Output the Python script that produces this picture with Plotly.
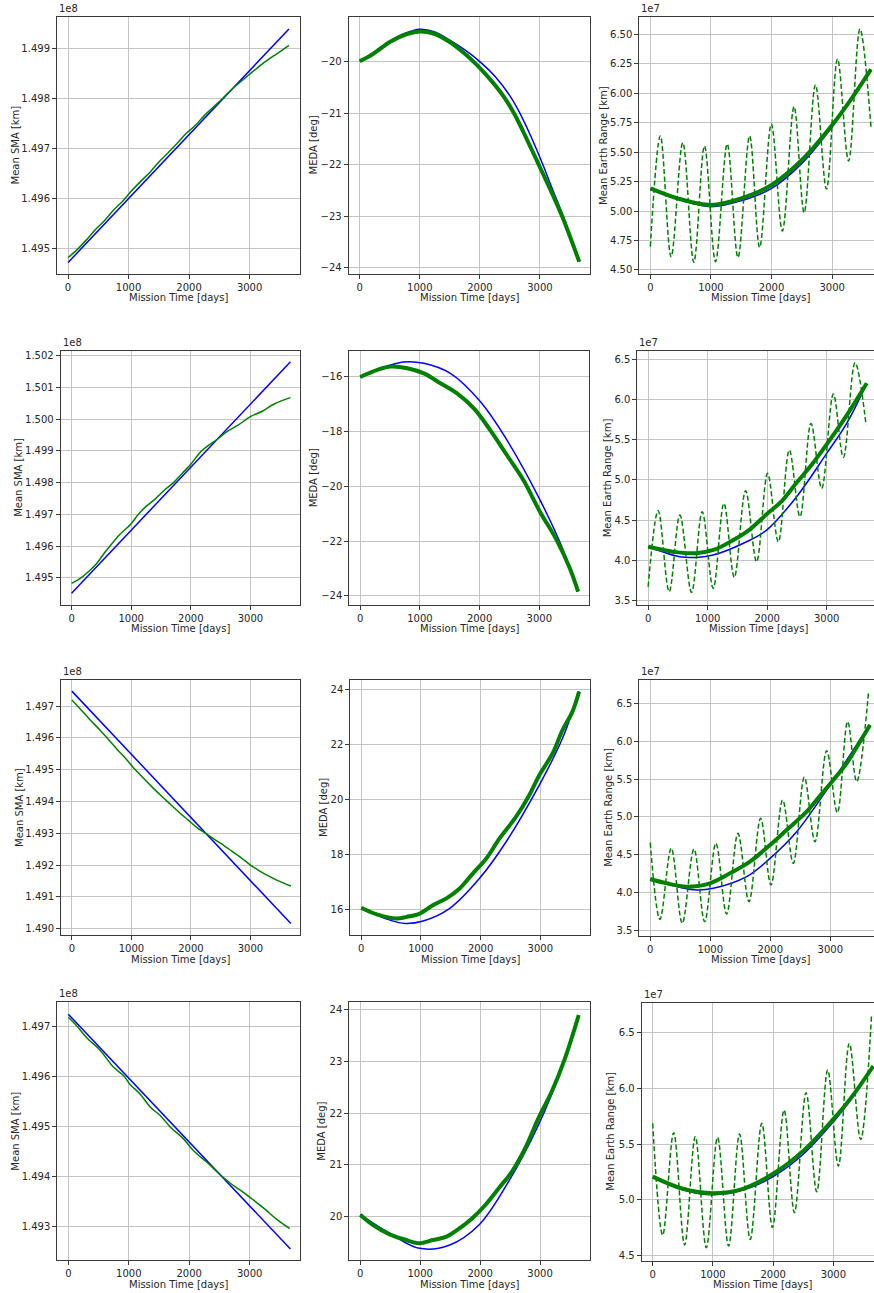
import plotly.graph_objects as go

W, H = 874, 1293

# ---------------- data (values as shown on the axes) ----------------
# Row 1
r1_sma_blue_d = [0, 3650]
r1_sma_blue_v = [1.49471, 1.49940]
r1_sma_green_d = [0, 150, 300, 450, 600, 750, 900, 1050, 1200, 1350, 1500, 1650, 1800, 1950, 2100, 2250, 2400, 2550, 2700, 2850, 3000, 3150, 3300, 3450, 3650]
r1_sma_green_v = [1.49481, 1.49497, 1.49516, 1.49537, 1.49555, 1.49576, 1.49594, 1.49615, 1.49634, 1.49652, 1.49673, 1.49691, 1.49710, 1.49730, 1.49746, 1.49766, 1.49783, 1.49800, 1.49818, 1.49834, 1.49849, 1.49864, 1.49878, 1.49890, 1.49907]
r1_meda_blue_d = [0, 250, 500, 750, 1000, 1250, 1500, 1750, 2004, 2250, 2500, 2668, 2850, 3039, 3200, 3387, 3660]
r1_meda_blue_v = [-19.99, -19.80, -19.60, -19.45, -19.37, -19.42, -19.58, -19.77, -20.00, -20.28, -20.66, -21.00, -21.45, -21.97, -22.45, -23.00, -23.88]
r1_meda_green_d = [0, 232, 509, 786, 1007, 1229, 1505, 1727, 1950, 2200, 2400, 2568, 2780, 2989, 3200, 3376, 3653]
r1_meda_green_v = [-19.99, -19.84, -19.61, -19.46, -19.41, -19.45, -19.62, -19.82, -20.06, -20.38, -20.68, -21.00, -21.50, -22.02, -22.55, -23.02, -23.88]
r1_rng_blue_d = [0, 500, 1000, 1500, 2000, 2500, 3000, 3300, 3640]
r1_rng_blue_v = [5.187, 5.094, 5.037, 5.088, 5.193, 5.405, 5.716, 5.943, 6.203]
r1_rng_green_d = [0, 500, 1000, 1500, 2000, 2500, 3000, 3300, 3640]
r1_rng_green_v = [5.193, 5.100, 5.052, 5.108, 5.221, 5.433, 5.730, 5.940, 6.203]
r1_rng_dash_d = [0, 165, 342, 535, 717, 893, 1075, 1268, 1445, 1638, 1803, 1996, 2178, 2371, 2537, 2724, 2906, 3088, 3270, 3458, 3640]
r1_rng_dash_v = [4.70, 5.637, 4.613, 5.580, 4.565, 5.552, 4.571, 5.569, 4.607, 5.637, 4.692, 5.739, 4.831, 5.886, 4.987, 6.070, 5.187, 6.291, 5.425, 6.545, 5.710]

# Row 2
r2_sma_blue_d = [0, 3673]
r2_sma_blue_v = [1.49451, 1.50181]
r2_sma_green_d = [0, 140, 300, 420, 550, 645, 800, 900, 1000, 1121, 1250, 1400, 1550, 1710, 1850, 2000, 2170, 2300, 2440, 2600, 2800, 3000, 3200, 3400, 3673]
r2_sma_green_v = [1.49482, 1.49497, 1.49522, 1.49545, 1.49578, 1.49600, 1.49635, 1.49652, 1.49670, 1.49700, 1.49725, 1.49748, 1.49775, 1.49800, 1.49828, 1.49858, 1.49898, 1.49918, 1.49936, 1.49960, 1.49982, 1.50008, 1.50025, 1.50048, 1.50068]
r2_meda_blue_d = [0, 511, 733, 1067, 1511, 2011, 2456, 3011, 3400, 3650]
r2_meda_blue_v = [-16.00, -15.56, -15.45, -15.50, -15.87, -16.90, -18.30, -20.49, -22.32, -23.84]
r2_meda_green_d = [0, 289, 511, 789, 1067, 1344, 1622, 1900, 2178, 2456, 2733, 3011, 3289, 3511, 3650]
r2_meda_green_v = [-16.00, -15.74, -15.62, -15.68, -15.87, -16.23, -16.60, -17.14, -17.94, -18.85, -19.76, -20.92, -21.95, -22.99, -23.84]
r2_rng_blue_d = [0, 533, 813, 1093, 1654, 1991, 2495, 3000, 3336, 3673]
r2_rng_blue_v = [4.170, 4.046, 4.038, 4.067, 4.232, 4.377, 4.791, 5.329, 5.701, 6.198]
r2_rng_green_d = [0, 500, 800, 1100, 1400, 1700, 2000, 2250, 2500, 2750, 3000, 3336, 3673]
r2_rng_green_v = [4.170, 4.100, 4.090, 4.130, 4.240, 4.380, 4.580, 4.740, 4.970, 5.190, 5.440, 5.800, 6.198]
r2_rng_dash_d = [0, 168, 353, 533, 729, 908, 1093, 1273, 1447, 1637, 1822, 2007, 2187, 2372, 2551, 2736, 2916, 3112, 3280, 3477, 3662]
r2_rng_dash_v = [3.674, 4.617, 3.612, 4.563, 3.603, 4.605, 3.653, 4.708, 3.790, 4.866, 3.984, 5.081, 4.232, 5.370, 4.543, 5.701, 4.894, 6.066, 5.279, 6.454, 5.681]

# Row 3
r3_sma_blue_d = [0, 3679]
r3_sma_blue_v = [1.49747, 1.49016]
r3_sma_green_d = [0, 130, 300, 470, 600, 750, 900, 1050, 1200, 1350, 1500, 1650, 1800, 1950, 2100, 2260, 2400, 2550, 2700, 2850, 3000, 3150, 3300, 3450, 3679]
r3_sma_green_v = [1.49719, 1.49693, 1.49658, 1.49625, 1.49598, 1.49566, 1.49536, 1.49503, 1.49474, 1.49445, 1.49418, 1.49392, 1.49366, 1.49342, 1.49318, 1.49298, 1.49280, 1.49262, 1.49242, 1.49222, 1.49200, 1.49182, 1.49166, 1.49152, 1.49134]
r3_meda_blue_d = [0, 483, 733, 1039, 1483, 1983, 2428, 2983, 3372, 3650]
r3_meda_blue_v = [16.04, 15.61, 15.49, 15.58, 16.04, 17.13, 18.46, 20.52, 22.22, 23.92]
r3_meda_green_d = [0, 261, 594, 761, 983, 1206, 1428, 1650, 1872, 2095, 2317, 2595, 2817, 2983, 3206, 3372, 3539, 3650]
r3_meda_green_v = [16.06, 15.82, 15.67, 15.73, 15.85, 16.16, 16.40, 16.76, 17.31, 17.85, 18.58, 19.37, 20.16, 20.88, 21.67, 22.52, 23.19, 23.92]
r3_rng_blue_d = [0, 494, 772, 1050, 1606, 1995, 2439, 2995, 3384, 3661]
r3_rng_blue_v = [4.177, 4.072, 4.037, 4.059, 4.213, 4.454, 4.806, 5.422, 5.884, 6.214]
r3_rng_green_d = [0, 272, 606, 994, 1328, 1661, 1995, 2272, 2606, 2828, 3050, 3272, 3495, 3661]
r3_rng_green_v = [4.182, 4.125, 4.081, 4.125, 4.257, 4.411, 4.630, 4.828, 5.070, 5.280, 5.488, 5.708, 5.994, 6.214]
r3_rng_dash_d = [0, 161, 350, 533, 728, 906, 1094, 1272, 1461, 1645, 1839, 2011, 2206, 2383, 2567, 2745, 2939, 3117, 3289, 3439, 3639]
r3_rng_dash_v = [4.661, 3.650, 4.587, 3.597, 4.578, 3.619, 4.653, 3.720, 4.784, 3.883, 4.982, 4.103, 5.224, 4.389, 5.523, 4.674, 5.875, 5.057, 6.258, 5.466, 6.667]

# Row 4
r4_sma_blue_d = [0, 3674]
r4_sma_blue_v = [1.49725, 1.49254]
r4_sma_green_d = [0, 138, 304, 525, 746, 912, 1022, 1188, 1354, 1519, 1685, 1906, 2072, 2293, 2514, 2680, 2845, 3011, 3232, 3453, 3663]
r4_sma_green_v = [1.49719, 1.49702, 1.49678, 1.49653, 1.49619, 1.49602, 1.49584, 1.49565, 1.49539, 1.49522, 1.49499, 1.49475, 1.49451, 1.49428, 1.49403, 1.49386, 1.49372, 1.49357, 1.49336, 1.49313, 1.49295]
r4_meda_blue_d = [0, 491, 987, 1483, 1980, 2476, 2973, 3359, 3645]
r4_meda_blue_v = [20.04, 19.68, 19.39, 19.45, 19.84, 20.68, 21.77, 22.86, 23.88]
r4_meda_green_d = [0, 215, 491, 767, 987, 1208, 1428, 1649, 1870, 2090, 2311, 2531, 2752, 2973, 3193, 3414, 3645]
r4_meda_green_v = [20.04, 19.84, 19.66, 19.55, 19.49, 19.55, 19.61, 19.77, 19.97, 20.23, 20.55, 20.87, 21.32, 21.90, 22.41, 23.05, 23.89]
r4_rng_blue_d = [0, 500, 1000, 1500, 2000, 2500, 3000, 3300, 3663]
r4_rng_blue_v = [5.203, 5.092, 5.047, 5.088, 5.210, 5.410, 5.700, 5.905, 6.195]
r4_rng_green_d = [0, 500, 1000, 1500, 2000, 2500, 3000, 3300, 3663]
r4_rng_green_v = [5.209, 5.100, 5.060, 5.100, 5.235, 5.440, 5.725, 5.920, 6.201]
r4_rng_dash_d = [0, 166, 348, 530, 707, 890, 1077, 1260, 1442, 1619, 1812, 1989, 2182, 2354, 2547, 2724, 2906, 3083, 3265, 3453, 3635]
r4_rng_dash_v = [5.687, 4.685, 5.603, 4.596, 5.567, 4.572, 5.561, 4.587, 5.591, 4.646, 5.687, 4.754, 5.806, 4.886, 5.962, 5.074, 6.165, 5.304, 6.404, 5.543, 6.667]

x_ticks = [0, 1000, 2000, 3000]
x_title = "Mission Time [days]"
y_titles = ["Mean SMA [km]", "MEDA [deg]", "Mean Earth Range [km]"]

# ---------------- layout geometry (pixels) ----------------
panels = [
    # row 1
    dict(box=(57, 300, 17, 274), xr=[-182.5, 3832.5], yr=[1.49448, 1.49964], yt=[1.495, 1.496, 1.497, 1.498, 1.499], fmt=".3f", yt_x=15, mult="1e8",
         series=[("b", r1_sma_blue_d, r1_sma_blue_v), ("g", r1_sma_green_d, r1_sma_green_v)]),
    dict(box=(348.7, 590, 17, 274), xr=[-182.5, 3832.5], yr=[-24.12, -19.13], yt=[-24, -23, -22, -21, -20], fmt="d", yt_x=313, mult=None,
         series=[("b", r1_meda_blue_d, r1_meda_blue_v), ("G", r1_meda_green_d, r1_meda_green_v)]),
    dict(box=(639.3, 874, 17, 274), xr=[-182.5, 3690], yr=[4.466, 6.647], yt=[4.5, 4.75, 5.0, 5.25, 5.5, 5.75, 6.0, 6.25, 6.5], fmt=".2f", yt_x=603.5, mult="1e7",
         series=[("b", r1_rng_blue_d, r1_rng_blue_v), ("G", r1_rng_green_d, r1_rng_green_v), ("d", r1_rng_dash_d, r1_rng_dash_v)]),
    # row 2
    dict(box=(60.7, 300, 350.7, 605), xr=[-182.5, 3832.5], yr=[1.49414, 1.50216], yt=[1.495, 1.496, 1.497, 1.498, 1.499, 1.500, 1.501, 1.502], fmt=".3f", yt_x=19, mult="1e8",
         series=[("b", r2_sma_blue_d, r2_sma_blue_v), ("g", r2_sma_green_d, r2_sma_green_v)]),
    dict(box=(349.3, 589, 350.7, 605), xr=[-182.5, 3832.5], yr=[-24.33, -15.04], yt=[-24, -22, -20, -18, -16], fmt="d", yt_x=313.5, mult=None,
         series=[("b", r2_meda_blue_d, r2_meda_blue_v), ("G", r2_meda_green_d, r2_meda_green_v)]),
    dict(box=(637.3, 874, 350.7, 605), xr=[-182.5, 3795], yr=[3.447, 6.603], yt=[3.5, 4.0, 4.5, 5.0, 5.5, 6.0, 6.5], fmt=".1f", yt_x=607.5, mult="1e7",
         series=[("b", r2_rng_blue_d, r2_rng_blue_v), ("G", r2_rng_green_d, r2_rng_green_v), ("d", r2_rng_dash_d, r2_rng_dash_v)]),
    # row 3
    dict(box=(61, 300, 680, 935), xr=[-182.5, 3832.5], yr=[1.4898, 1.49782], yt=[1.490, 1.491, 1.492, 1.493, 1.494, 1.495, 1.496, 1.497], fmt=".3f", yt_x=19.5, mult="1e8",
         series=[("b", r3_sma_blue_d, r3_sma_blue_v), ("g", r3_sma_green_d, r3_sma_green_v)]),
    dict(box=(350.3, 590, 680, 935), xr=[-182.5, 3832.5], yr=[15.07, 24.34], yt=[16, 18, 20, 22, 24], fmt="d", yt_x=323.5, mult=None,
         series=[("b", r3_meda_blue_d, r3_meda_blue_v), ("G", r3_meda_green_d, r3_meda_green_v)]),
    dict(box=(639.3, 874, 680, 935.7), xr=[-182.5, 3728], yr=[3.434, 6.807], yt=[3.5, 4.0, 4.5, 5.0, 5.5, 6.0, 6.5], fmt=".1f", yt_x=609, mult="1e7",
         series=[("b", r3_rng_blue_d, r3_rng_blue_v), ("G", r3_rng_green_d, r3_rng_green_v), ("d", r3_rng_dash_d, r3_rng_dash_v)]),
    # row 4
    dict(box=(57.3, 300, 1002.3, 1260), xr=[-182.5, 3832.5], yr=[1.49232, 1.49749], yt=[1.493, 1.494, 1.495, 1.496, 1.497], fmt=".3f", yt_x=15.5, mult="1e8",
         series=[("b", r4_sma_blue_d, r4_sma_blue_v), ("g", r4_sma_green_d, r4_sma_green_v)]),
    dict(box=(349.3, 590, 1002.3, 1260), xr=[-182.5, 3832.5], yr=[19.165, 24.135], yt=[20, 21, 22, 23, 24], fmt="d", yt_x=321.5, mult=None,
         series=[("b", r4_meda_blue_d, r4_meda_blue_v), ("G", r4_meda_green_d, r4_meda_green_v)]),
    dict(box=(641.7, 874, 1002.7, 1260.7), xr=[-182.5, 3675], yr=[4.455, 6.769], yt=[4.5, 5.0, 5.5, 6.0, 6.5], fmt=".1f", yt_x=611, mult="1e7",
         series=[("b", r4_rng_blue_d, r4_rng_blue_v), ("G", r4_rng_green_d, r4_rng_green_v), ("d", r4_rng_dash_d, r4_rng_dash_v)]),
]
x_title_y = [297.5, 628, 959, 1284]

FONT = "DejaVu Sans"
TXT = "#262626"
SPINE = "#3a3a3a"
GRID = "#c4c4c4"

styles = {
    "b": dict(color="#0000ff", width=1.5),
    "g": dict(color="#008000", width=1.5),
    "G": dict(color="#008000", width=4),
    "d": dict(color="#008000", width=1.5, dash="5px,2.6px"),
}

fig = go.Figure()
layout = {}
annotations = []

for i, p in enumerate(panels):
    k = i + 1
    xa = "xaxis" if k == 1 else f"xaxis{k}"
    ya = "yaxis" if k == 1 else f"yaxis{k}"
    xref = "x" if k == 1 else f"x{k}"
    yref = "y" if k == 1 else f"y{k}"
    l, r, t, b = p["box"]
    col = i % 3
    row = i // 3
    for kind, d, v in p["series"]:
        fig.add_trace(go.Scatter(
            x=d, y=v, mode="lines", xaxis=xref, yaxis=yref, showlegend=False,
            line=dict(shape="spline" if len(d) > 2 else "linear", smoothing=1.0, **styles[kind]),
            hoverinfo="skip"))
    common = dict(showline=True, linecolor=SPINE, linewidth=1, showgrid=True, gridcolor=GRID,
                  gridwidth=1, zeroline=False, ticks="outside", ticklen=4, tickwidth=1,
                  tickcolor=SPINE, tickfont=dict(family=FONT, size=10, color=TXT))
    layout[xa] = dict(common, domain=[l / W, r / W], range=p["xr"], anchor=yref,
                      tickvals=x_ticks, mirror=True)
    ytext = [format(v, p["fmt"]) if p["fmt"] != "d" else str(v).replace("-", "\u2212") for v in p["yt"]]
    layout[ya] = dict(common, domain=[1 - b / H, 1 - t / H], range=p["yr"], anchor=xref,
                      tickvals=p["yt"], ticktext=ytext, mirror=(col != 2))
    annotations.append(dict(text=x_title, xref="paper", yref="paper",
                            x=((l + (r if col != 2 else l + 242)) / 2) / W, y=1 - x_title_y[row] / H,
                            xanchor="center", yanchor="middle", showarrow=False,
                            font=dict(family=FONT, size=10, color=TXT)))
    annotations.append(dict(text=y_titles[col], xref="paper", yref="paper",
                            x=p["yt_x"] / W, y=1 - ((t + b) / 2) / H, textangle=-90,
                            xanchor="center", yanchor="middle", showarrow=False,
                            font=dict(family=FONT, size=10, color=TXT)))
    if p["mult"]:
        annotations.append(dict(text=p["mult"], xref="paper", yref="paper",
                                x=l / W, y=1 - (t - 1) / H, xanchor="left", yanchor="bottom",
                                showarrow=False, font=dict(family=FONT, size=10, color=TXT)))

fig.update_layout(
    width=W, height=H, margin=dict(l=0, r=0, t=0, b=0),
    paper_bgcolor="white", plot_bgcolor="white",
    annotations=annotations, **layout)

fig.write_html("out.html", config={"displayModeBar": False},
               post_script="document.body.style.margin='0px';document.body.style.overflow='hidden';")
